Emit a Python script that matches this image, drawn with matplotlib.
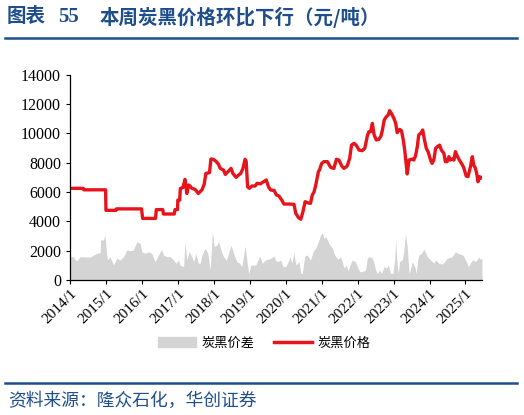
import matplotlib.pyplot as plt
from matplotlib.lines import Line2D
from matplotlib.patches import Patch

# carbon black price (yuan/ton), time in decimal years
price_t = [2014.0, 2014.37, 2014.38, 2014.99, 2015.0, 2015.28, 2015.29, 2015.99, 2016.02, 2016.38,
           2016.4, 2016.58, 2016.6, 2016.9, 2016.92, 2016.99, 2017.0, 2017.05, 2017.07, 2017.14,
           2017.2, 2017.25, 2017.3, 2017.34, 2017.39, 2017.48, 2017.57, 2017.67, 2017.73, 2017.78,
           2017.88, 2017.92, 2017.99, 2018.07, 2018.13, 2018.18, 2018.27, 2018.32, 2018.41, 2018.48,
           2018.53, 2018.62, 2018.69, 2018.75, 2018.81, 2018.87, 2018.9, 2018.94, 2018.99, 2019.06,
           2019.15, 2019.2, 2019.3, 2019.35, 2019.46, 2019.52, 2019.58, 2019.68, 2019.74, 2019.81,
           2019.89, 2019.95, 2020.09, 2020.23, 2020.28, 2020.35, 2020.42, 2020.48, 2020.54, 2020.6,
           2020.69, 2020.74, 2020.79, 2020.83, 2020.91, 2020.94, 2021.0, 2021.06, 2021.16, 2021.25,
           2021.34, 2021.41, 2021.48, 2021.56, 2021.62, 2021.71, 2021.78, 2021.83, 2021.9, 2021.96,
           2022.04, 2022.13, 2022.2, 2022.27, 2022.31, 2022.36, 2022.41, 2022.46, 2022.52, 2022.59,
           2022.65, 2022.69, 2022.74, 2022.8, 2022.85, 2022.89, 2022.94, 2023.01, 2023.06, 2023.1,
           2023.17, 2023.22, 2023.27, 2023.31, 2023.35, 2023.38, 2023.43, 2023.52, 2023.56, 2023.61,
           2023.66, 2023.7, 2023.77, 2023.81, 2023.86, 2023.91, 2023.96, 2024.03, 2024.07, 2024.12,
           2024.17, 2024.22, 2024.28, 2024.33, 2024.4, 2024.44, 2024.49, 2024.54, 2024.58, 2024.63,
           2024.68, 2024.72, 2024.78, 2024.83, 2024.89, 2024.95, 2025.02, 2025.07, 2025.14, 2025.19,
           2025.23, 2025.28, 2025.32, 2025.35, 2025.39, 2025.43, 2025.46]
price_v = [6250, 6250, 6150, 6150, 4750, 4750, 4850, 4850, 4200, 4200,
           4800, 4800, 4500, 4500, 4800, 4800, 5450, 5450, 6250, 6300,
           6860, 5900, 6480, 6400, 6250, 6180, 5900, 6150, 6500, 7270,
           7320, 8250, 8230, 8070, 7890, 7610, 7500, 7200, 7430, 7610,
           7270, 7000, 7160, 7270, 7610, 8230, 8100, 6360, 6250, 6410,
           6410, 6590, 6560, 6650, 6820, 6360, 6140, 6100, 5800, 5730,
           5450, 5180, 5180, 5160, 4550, 4270, 4140, 4660, 5340, 5270,
           5230, 5800, 6020, 6410, 7390, 7500, 7950, 8070, 8070, 7680,
           7610, 8230, 8180, 7770, 7610, 7770, 8300, 9200, 9320, 9200,
           8860, 8820, 8980, 9820, 10110, 10110, 10680, 9890, 9550, 9590,
           9820, 10230, 10910, 11140, 11250, 11550, 11360, 11020, 10680, 10050,
           10270, 10180, 9550, 8860, 7950, 7230, 8180, 8250, 8180, 8450,
           9090, 9890, 10050, 10230, 9550, 8980, 8750, 8180, 7950, 8180,
           8980, 9090, 9200, 8860, 8640, 8070, 8070, 8410, 8180, 8250,
           8180, 8750, 8410, 8180, 7950, 7680, 7090, 7050, 7730, 8410,
           7840, 7610, 7160, 6700, 7050, 6950, 7000]

# carbon black spread (yuan/ton)
spread_t = [2014.0, 2014.09, 2014.14, 2014.2, 2014.28, 2014.56, 2014.74, 2014.84, 2014.85, 2014.93,
            2014.97, 2015.0, 2015.04, 2015.11, 2015.21, 2015.3, 2015.39, 2015.49, 2015.58, 2015.67,
            2015.76, 2015.86, 2015.95, 2016.0, 2016.09, 2016.18, 2016.27, 2016.37, 2016.46, 2016.55,
            2016.6, 2016.69, 2016.79, 2016.88, 2016.95, 2017.02, 2017.06, 2017.16, 2017.2, 2017.25,
            2017.31, 2017.39, 2017.44, 2017.5, 2017.57, 2017.62, 2017.67, 2017.76, 2017.83, 2017.9,
            2017.96, 2018.01, 2018.09, 2018.13, 2018.2, 2018.27, 2018.35, 2018.41, 2018.48, 2018.55,
            2018.64, 2018.72, 2018.78, 2018.87, 2018.92, 2018.97, 2019.03, 2019.17, 2019.25, 2019.29,
            2019.35, 2019.43, 2019.56, 2019.68, 2019.72, 2019.77, 2019.86, 2019.93, 2020.0, 2020.07,
            2020.12, 2020.17, 2020.23, 2020.28, 2020.37, 2020.42, 2020.46, 2020.53, 2020.6, 2020.69,
            2020.76, 2020.83, 2020.91, 2020.97, 2021.02, 2021.06, 2021.11, 2021.16, 2021.2, 2021.3,
            2021.34, 2021.39, 2021.46, 2021.53, 2021.57, 2021.62, 2021.67, 2021.74, 2021.79, 2021.85,
            2021.94, 2021.99, 2022.06, 2022.13, 2022.22, 2022.27, 2022.31, 2022.39, 2022.45, 2022.5,
            2022.55, 2022.61, 2022.67, 2022.73, 2022.8, 2022.85, 2022.92, 2022.98, 2023.03, 2023.06,
            2023.09, 2023.13, 2023.17, 2023.24, 2023.29, 2023.33, 2023.38, 2023.43, 2023.47, 2023.52,
            2023.59, 2023.63, 2023.67, 2023.7, 2023.78, 2023.84, 2023.89, 2023.94, 2024.03, 2024.12,
            2024.17, 2024.26, 2024.35, 2024.42, 2024.49, 2024.63, 2024.72, 2024.79, 2024.93, 2025.0,
            2025.05, 2025.07, 2025.11, 2025.16, 2025.2, 2025.25, 2025.32, 2025.37, 2025.41, 2025.46]
spread_v = [1590, 1590, 1410, 1320, 1590, 1560, 1820, 1860, 2730, 2730,
            3070, 2270, 1360, 1590, 1020, 1480, 1360, 1590, 2050, 2000,
            2050, 2610, 2500, 1930, 1820, 1930, 1820, 1250, 1700, 2090,
            1700, 1590, 1590, 1360, 1140, 1360, 1020, 910, 2610, 1360,
            1930, 1590, 1250, 1820, 1140, 1140, 1700, 2160, 1820, 680,
            3300, 2270, 2390, 2610, 2050, 1590, 1360, 1820, 2390, 1820,
            1250, 1140, 910, 2320, 1360, 410, 1020, 1020, 1480, 1590,
            1140, 1360, 1450, 1640, 1320, 1250, 1360, 910, 910, 1250,
            1590, 1140, 1860, 1020, 1250, 450, 450, 1640, 1700, 1360,
            1930, 2160, 2610, 3070, 3230, 2840, 2950, 2730, 2500, 2160,
            1820, 1590, 1410, 1590, 1250, 800, 1020, 640, 1020, 1360,
            1250, 910, 570, 570, 680, 1480, 1590, 1540, 1250, 680,
            450, 680, 450, 910, 800, 1020, 450, 450, 1360, 2770,
            1360, 450, 1250, 1360, 2050, 3140, 2270, 450, 680, 1250,
            910, 450, 1360, 1700, 1820, 2090, 1860, 1590, 1360, 1140,
            1360, 1140, 1090, 1250, 1480, 1590, 1930, 1820, 1700, 1360,
            1140, 910, 1020, 1250, 1410, 1250, 1360, 1590, 1410, 1480]

years = list(range(2014, 2026))
year_labels = [f"{y}/1" for y in years]

title_head = "图表"
title_num = "55"
title_main = "本周炭黑价格环比下行（元/吨）"
source_text = "资料来源：隆众石化，华创证券"
blue = "#1f4e8c"
cjk = ["Noto Sans CJK SC", "DejaVu Sans"]

fig = plt.figure(figsize=(5.24, 4.15), dpi=100)
ax = fig.add_axes([70 / 524, 1 - 280 / 415, 412 / 524, 205.3 / 415])

ax.fill_between(spread_t, spread_v, 0, color="#d4d4d4", lw=0, label="炭黑价差")
ax.plot(price_t, price_v, color="#e8141c", lw=2.4, label="炭黑价格")

ax.set_xlim(2014.0, 2025.46)
ax.set_ylim(0, 14000)
ax.set_yticks(range(0, 14001, 2000))
ax.set_xticks(years)
ax.set_xticklabels(year_labels, rotation=45, ha="right", rotation_mode="anchor",
                   family="Liberation Serif", fontsize=11)
for lab in ax.get_yticklabels():
    lab.set_family("Liberation Serif")
    lab.set_fontsize(11.5)
ax.tick_params(axis="both", direction="out", length=3, width=0.8, colors="black")
ax.tick_params(axis="x", pad=2)
for s in ["top", "right"]:
    ax.spines[s].set_visible(False)
for s in ["left", "bottom"]:
    ax.spines[s].set_linewidth(0.9)

handles = [Patch(color="#d4d4d4"), Line2D([], [], color="#e8141c", lw=2.5)]
fig.legend(handles, ["炭黑价差", "炭黑价格"], loc="center", bbox_to_anchor=(264 / 524, 1 - 343 / 415),
           ncol=2, frameon=False, prop={"family": cjk, "size": 9.5},
           handlelength=2.9, columnspacing=1.5, handletextpad=0.4)

fig.text(7 / 524, 1 - 17 / 415, title_head, family=cjk, fontsize=14, weight="bold",
         color=blue, va="center", ha="left")
fig.text(58 / 524, 1 - 17 / 415, title_num, family="Liberation Serif", fontsize=15, weight="bold",
         color=blue, va="center", ha="left")
fig.text(100 / 524, 1 - 17 / 415, title_main, family=cjk, fontsize=14, weight="bold",
         color=blue, va="center", ha="left")
fig.add_artist(Line2D([5 / 524, 517 / 524], [1 - 38 / 415] * 2, color=blue, lw=1.8))
fig.add_artist(Line2D([5 / 524, 517 / 524], [1 - 383 / 415] * 2, color=blue, lw=1.8))
fig.text(8 / 524, 1 - 401 / 415, source_text, family=cjk, fontsize=12.8, style="italic",
         color=blue, va="center", ha="left")

fig.savefig("out.png", dpi=100)
